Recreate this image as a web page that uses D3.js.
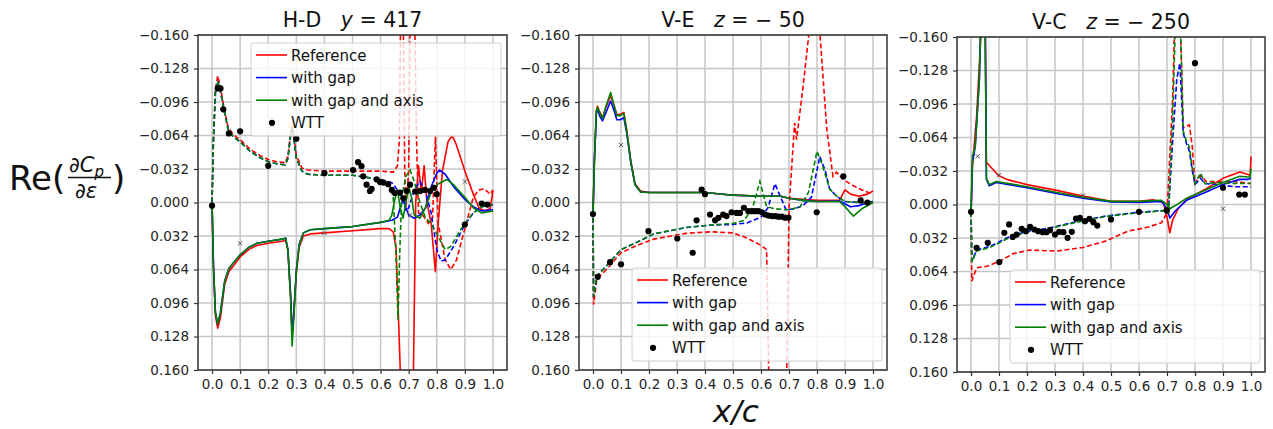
<!DOCTYPE html>
<html>
<head>
<meta charset="utf-8">
<script src="https://cdn.jsdelivr.net/npm/d3@7"></script>
<style>
  html, body { margin: 0; padding: 0; background: #fff; }
  svg { display: block; font-family: 'DejaVu Sans', sans-serif; }
</style>
</head>
<body>
<svg id="chart" width="1273" height="429"></svg>
<script>
const xTicks = [0, 0.1, 0.2, 0.3, 0.4, 0.5, 0.6, 0.7, 0.8, 0.9, 1.0]
const yTicks = [-0.16, -0.128, -0.096, -0.064, -0.032, 0, 0.032, 0.064, 0.096, 0.128, 0.16]
const seriesNames = ['Reference', 'with gap', 'with gap and axis']
const seriesColors = ['#ff0000', '#0000ff', '#008000']
const wttName = 'WTT'

// H-D  y = 417
const hdRefSolid = [[0, 0], [0.005, 0.062], [0.012, 0.108], [0.02, 0.12], [0.03, 0.11], [0.045, 0.078], [0.06, 0.066], [0.075, 0.061], [0.1, 0.052], [0.13, 0.045], [0.16, 0.041], [0.2, 0.039], [0.25, 0.037], [0.262, 0.036], [0.27, 0.046], [0.28, 0.09], [0.285, 0.125], [0.29, 0.11], [0.3, 0.068], [0.31, 0.043], [0.325, 0.032], [0.35, 0.03], [0.4, 0.029], [0.5, 0.027], [0.6, 0.025], [0.63, 0.025], [0.645, 0.028], [0.655, 0.043], [0.665, 0.12], [0.675, 0.2], [0.715, 0.2], [0.725, 0.0], [0.735, -0.035], [0.745, -0.01], [0.755, -0.035], [0.765, 0.0], [0.78, 0.02], [0.795, 0.066], [0.805, 0.02], [0.82, -0.03], [0.84, -0.058], [0.855, -0.064], [0.87, -0.055], [0.9, -0.03], [0.93, -0.008], [0.95, 0.005], [0.97, 0.008], [0.99, 0.006], [1.0, -0.011]]
const hdGapSolid = [[0, 0], [0.005, 0.06], [0.012, 0.105], [0.02, 0.116], [0.03, 0.105], [0.045, 0.075], [0.06, 0.063], [0.075, 0.058], [0.1, 0.05], [0.13, 0.043], [0.16, 0.039], [0.2, 0.037], [0.25, 0.035], [0.262, 0.034], [0.27, 0.045], [0.28, 0.09], [0.285, 0.128], [0.29, 0.11], [0.3, 0.065], [0.31, 0.04], [0.325, 0.029], [0.35, 0.026], [0.4, 0.025], [0.5, 0.023], [0.6, 0.019], [0.64, 0.017], [0.66, 0.014], [0.67, 0.005], [0.68, -0.003], [0.69, 0.005], [0.7, 0.012], [0.72, 0.015], [0.74, 0.012], [0.76, 0.005], [0.78, -0.015], [0.8, -0.028], [0.81, -0.031], [0.83, -0.027], [0.86, -0.015], [0.9, -0.003], [0.93, 0.004], [0.96, 0.008], [1.0, 0.007]]
const hdAxisSolid = [[0, 0], [0.005, 0.06], [0.012, 0.105], [0.02, 0.116], [0.03, 0.105], [0.045, 0.075], [0.06, 0.063], [0.075, 0.058], [0.1, 0.05], [0.13, 0.043], [0.16, 0.039], [0.2, 0.037], [0.25, 0.035], [0.262, 0.034], [0.27, 0.045], [0.28, 0.095], [0.285, 0.137], [0.29, 0.115], [0.3, 0.066], [0.31, 0.041], [0.325, 0.029], [0.35, 0.026], [0.4, 0.025], [0.5, 0.023], [0.6, 0.019], [0.63, 0.017], [0.64, 0.012], [0.65, -0.002], [0.66, -0.012], [0.67, 0.005], [0.68, 0.015], [0.69, 0.0], [0.7, -0.015], [0.71, -0.005], [0.72, 0.012], [0.74, 0.015], [0.76, 0.005], [0.78, -0.01], [0.8, -0.017], [0.835, -0.022], [0.86, -0.017], [0.9, -0.005], [0.93, 0.005], [0.96, 0.01], [1.0, 0.008]]
const hdRefDash = [[0, 0], [0.005, -0.06], [0.012, -0.108], [0.02, -0.121], [0.03, -0.11], [0.04, -0.095], [0.057, -0.072], [0.075, -0.065], [0.1, -0.06], [0.135, -0.051], [0.17, -0.045], [0.2, -0.041], [0.23, -0.039], [0.26, -0.038], [0.27, -0.044], [0.28, -0.067], [0.285, -0.073], [0.292, -0.062], [0.3, -0.045], [0.32, -0.033], [0.34, -0.031], [0.4, -0.03], [0.5, -0.03], [0.6, -0.03], [0.645, -0.029], [0.66, -0.035], [0.667, -0.06], [0.672, -0.2], [0.68, -0.2], [0.686, -0.03], [0.69, 0.005], [0.7, -0.03], [0.706, -0.2], [0.72, -0.2], [0.728, -0.06], [0.735, 0.01], [0.75, 0.012], [0.77, 0.02], [0.785, 0.015], [0.795, -0.063], [0.805, 0.02], [0.83, 0.055], [0.85, 0.064], [0.87, 0.055], [0.9, 0.025], [0.93, -0.005], [0.95, -0.012], [0.97, -0.013], [0.99, -0.008], [1.0, -0.012]]
const hdGapDash = [[0, 0], [0.005, -0.06], [0.012, -0.105], [0.02, -0.116], [0.03, -0.106], [0.04, -0.092], [0.057, -0.07], [0.075, -0.063], [0.1, -0.058], [0.135, -0.049], [0.17, -0.043], [0.2, -0.039], [0.23, -0.037], [0.26, -0.036], [0.27, -0.042], [0.28, -0.065], [0.285, -0.071], [0.292, -0.06], [0.3, -0.042], [0.32, -0.03], [0.34, -0.027], [0.4, -0.026], [0.5, -0.026], [0.55, -0.024], [0.6, -0.022], [0.64, -0.019], [0.66, -0.012], [0.68, -0.002], [0.69, 0.008], [0.7, 0.005], [0.72, -0.012], [0.74, -0.02], [0.76, -0.01], [0.78, 0.01], [0.8, 0.045], [0.815, 0.056], [0.83, 0.055], [0.86, 0.042], [0.9, 0.021], [0.93, 0.01], [0.96, 0.004], [1.0, 0.002]]
const hdAxisDash = [[0, 0], [0.005, -0.06], [0.012, -0.105], [0.02, -0.116], [0.03, -0.106], [0.04, -0.092], [0.057, -0.07], [0.075, -0.063], [0.1, -0.058], [0.135, -0.049], [0.17, -0.043], [0.2, -0.039], [0.23, -0.037], [0.26, -0.036], [0.27, -0.042], [0.28, -0.065], [0.285, -0.071], [0.292, -0.06], [0.3, -0.042], [0.32, -0.03], [0.34, -0.027], [0.4, -0.026], [0.5, -0.026], [0.55, -0.024], [0.6, -0.022], [0.63, -0.018], [0.645, -0.005], [0.655, 0.05], [0.662, 0.112], [0.668, 0.05], [0.675, -0.005], [0.69, -0.025], [0.705, -0.031], [0.72, -0.02], [0.74, 0.0], [0.76, 0.015], [0.78, 0.02], [0.8, 0.03], [0.83, 0.045], [0.85, 0.042], [0.88, 0.028], [0.9, 0.02], [0.93, 0.01], [0.96, 0.004], [1.0, 0.002]]
const hdWtt = [[0.0, 0.003], [0.02, -0.109], [0.03, -0.109], [0.04, -0.089], [0.06, -0.066], [0.1, -0.068], [0.2, -0.035], [0.3, -0.061], [0.4, -0.028], [0.502, -0.031], [0.52, -0.0385], [0.532, -0.0347], [0.538, -0.025], [0.55, -0.017], [0.562, -0.011], [0.568, -0.013], [0.586, -0.022], [0.598, -0.0195], [0.61, -0.019], [0.627, -0.0175], [0.64, -0.012], [0.651, -0.009], [0.669, -0.0095], [0.681, -0.004], [0.693, -0.011], [0.705, -0.017], [0.723, -0.0105], [0.741, -0.011], [0.758, -0.012], [0.776, -0.011], [0.79, -0.014], [0.8, -0.008], [0.9, 0.021], [0.96, 0.001], [0.98, 0.002]]
const hdCross = [[0.1, 0.039], [0.4, 0.029], [0.705, 0.012], [0.9, -0.02]]

// V-E  z = -50
const veRefSolid = [[0, 0.012], [0.005, -0.04], [0.012, -0.088], [0.016, -0.092], [0.025, -0.086], [0.034, -0.081], [0.045, -0.09], [0.063, -0.102], [0.075, -0.093], [0.085, -0.084], [0.097, -0.084], [0.11, -0.086], [0.12, -0.07], [0.135, -0.04], [0.15, -0.018], [0.17, -0.011], [0.2, -0.0095], [0.3, -0.0095], [0.4, -0.0095], [0.5, -0.007], [0.6, -0.006], [0.67, -0.006], [0.7, -0.004], [0.75, -0.003], [0.8, -0.002], [0.88, -0.002], [0.9, -0.012], [0.92, -0.008], [0.95, -0.006], [0.98, -0.008], [1.0, -0.011]]
const veGapSolid = [[0, 0.012], [0.005, -0.04], [0.012, -0.085], [0.016, -0.089], [0.025, -0.082], [0.034, -0.078], [0.045, -0.085], [0.063, -0.097], [0.075, -0.088], [0.085, -0.079], [0.097, -0.079], [0.11, -0.081], [0.12, -0.067], [0.135, -0.038], [0.15, -0.017], [0.17, -0.01], [0.2, -0.0095], [0.3, -0.0095], [0.4, -0.0095], [0.5, -0.007], [0.6, -0.006], [0.67, -0.006], [0.7, -0.004], [0.75, -0.002], [0.8, -0.001], [0.88, -0.0015], [0.92, 0.004], [0.95, 0.003], [0.98, 0.0], [1.0, -0.001]]
const veAxisSolid = [[0, 0.012], [0.005, -0.04], [0.012, -0.087], [0.016, -0.091], [0.025, -0.085], [0.034, -0.08], [0.045, -0.091], [0.063, -0.105], [0.075, -0.093], [0.085, -0.083], [0.097, -0.083], [0.11, -0.085], [0.12, -0.069], [0.135, -0.039], [0.15, -0.017], [0.17, -0.01], [0.2, -0.0095], [0.3, -0.0095], [0.4, -0.0095], [0.5, -0.007], [0.6, -0.006], [0.67, -0.006], [0.7, -0.004], [0.75, -0.002], [0.8, -0.001], [0.88, -0.001], [0.9, 0.004], [0.93, 0.013], [0.96, 0.006], [1.0, 0.0]]
const veRefDash = [[0, 0], [0.002, 0.0975], [0.014, 0.073], [0.05, 0.0635], [0.1, 0.048], [0.157, 0.041], [0.217, 0.035], [0.33, 0.0295], [0.42, 0.028], [0.5, 0.029], [0.55, 0.034], [0.6, 0.041], [0.62, 0.045], [0.63, 0.2], [0.69, 0.2], [0.7, 0.005], [0.72, -0.076], [0.727, -0.06], [0.75, -0.11], [0.787, -0.2], [0.8, -0.2], [0.835, -0.07], [0.857, -0.025], [0.87, -0.029], [0.893, -0.022], [0.93, -0.016], [0.96, -0.012], [1.0, -0.008]]
const veGapDash = [[0, 0], [0.002, 0.09], [0.014, 0.07], [0.05, 0.06], [0.1, 0.045], [0.157, 0.038], [0.217, 0.03], [0.33, 0.024], [0.42, 0.0215], [0.5, 0.021], [0.55, 0.0195], [0.6, 0.014], [0.625, 0.005], [0.65, -0.018], [0.67, -0.005], [0.69, 0.007], [0.72, 0.006], [0.75, 0.003], [0.78, -0.005], [0.81, -0.044], [0.83, -0.03], [0.845, -0.013], [0.87, -0.006], [0.9, -0.001], [0.95, 0.0], [1.0, 0.0]]
const veAxisDash = [[0, 0], [0.002, 0.09], [0.014, 0.07], [0.05, 0.06], [0.1, 0.045], [0.157, 0.038], [0.217, 0.03], [0.33, 0.024], [0.42, 0.0215], [0.5, 0.02], [0.54, 0.017], [0.57, 0.005], [0.596, -0.02], [0.62, 0.004], [0.65, 0.006], [0.7, 0.007], [0.74, 0.004], [0.77, -0.01], [0.8, -0.049], [0.82, -0.035], [0.845, -0.013], [0.87, -0.006], [0.9, -0.001], [0.95, 0.0], [1.0, 0.0]]
const veWtt = [[0.0, 0.011], [0.017, 0.071], [0.061, 0.057], [0.1, 0.059], [0.198, 0.0274], [0.301, 0.0344], [0.356, 0.048], [0.37, 0.017], [0.388, -0.0124], [0.4, -0.008], [0.418, 0.0115], [0.436, 0.017], [0.448, 0.0146], [0.465, 0.0115], [0.477, 0.013], [0.495, 0.0093], [0.513, 0.01], [0.525, 0.01], [0.539, 0.005], [0.555, 0.0083], [0.567, 0.0083], [0.579, 0.0083], [0.591, 0.0083], [0.603, 0.0093], [0.615, 0.0115], [0.627, 0.0125], [0.639, 0.013], [0.651, 0.013], [0.662, 0.0135], [0.674, 0.0135], [0.686, 0.0145], [0.698, 0.0145], [0.799, 0.0093], [0.894, -0.025], [0.956, -0.002], [0.98, 0.0]]
const veCross = [[0.1, -0.055]]

// V-C  z = -250
const vcRefSolid = [[0, 0.01], [0.005, -0.036], [0.02, -0.084], [0.035, -0.16], [0.04, -0.2], [0.05, -0.2], [0.055, -0.04], [0.06, -0.039], [0.097, -0.028], [0.127, -0.024], [0.2, -0.019], [0.306, -0.0135], [0.4, -0.008], [0.5, -0.003], [0.6, -0.003], [0.65, -0.0045], [0.687, -0.002], [0.7, 0.012], [0.71, 0.027], [0.72, 0.015], [0.74, 0.004], [0.77, -0.005], [0.84, -0.015], [0.9, -0.025], [0.96, -0.031], [0.997, -0.028], [1.0, -0.046]]
const vcGapSolid = [[0, 0.012], [0.005, -0.04], [0.015, -0.055], [0.03, -0.12], [0.037, -0.2], [0.05, -0.2], [0.055, -0.024], [0.065, -0.018], [0.09, -0.021], [0.2, -0.016], [0.306, -0.0105], [0.4, -0.006], [0.5, -0.0024], [0.6, -0.002], [0.68, -0.003], [0.7, 0.004], [0.71, 0.013], [0.73, 0.006], [0.77, -0.004], [0.84, -0.012], [0.9, -0.019], [0.96, -0.024], [0.99, -0.024], [1.0, -0.025]]
const vcAxisSolid = [[0, 0.012], [0.005, -0.046], [0.015, -0.055], [0.03, -0.12], [0.037, -0.2], [0.05, -0.2], [0.055, -0.025], [0.065, -0.019], [0.09, -0.022], [0.2, -0.017], [0.306, -0.0115], [0.4, -0.007], [0.5, -0.003], [0.6, -0.003], [0.68, -0.004], [0.7, 0.0], [0.71, 0.004], [0.73, 0.001], [0.77, -0.006], [0.84, -0.014], [0.9, -0.021], [0.96, -0.027], [0.997, -0.026], [1.0, -0.034]]
const vcRefDash = [[0, 0], [0.003, 0.0733], [0.02, 0.0605], [0.057, 0.059], [0.104, 0.054], [0.15, 0.047], [0.21, 0.0435], [0.306, 0.0445], [0.4, 0.041], [0.48, 0.035], [0.56, 0.0255], [0.63, 0.0218], [0.68, 0.0175], [0.7, 0.008], [0.72, -0.1], [0.73, -0.2], [0.745, -0.2], [0.758, -0.0735], [0.78, -0.076], [0.79, -0.056], [0.8, -0.02], [0.82, -0.028], [0.84, -0.022], [0.878, -0.022], [0.94, -0.022], [1.0, -0.02]]
const vcGapDash = [[0, 0], [0.003, 0.054], [0.02, 0.0435], [0.068, 0.04], [0.127, 0.032], [0.2, 0.0255], [0.27, 0.023], [0.36, 0.0175], [0.48, 0.011], [0.6, 0.0074], [0.687, 0.0057], [0.705, 0.008], [0.72, -0.06], [0.735, -0.12], [0.746, -0.135], [0.758, -0.068], [0.77, -0.058], [0.78, -0.051], [0.79, -0.033], [0.8, -0.019], [0.82, -0.025], [0.835, -0.02], [0.878, -0.019], [0.94, -0.017], [1.0, -0.017]]
const vcAxisDash = [[0, 0], [0.003, 0.055], [0.02, 0.0445], [0.068, 0.041], [0.127, 0.033], [0.2, 0.026], [0.27, 0.0235], [0.36, 0.018], [0.48, 0.0115], [0.6, 0.0078], [0.687, 0.006], [0.705, 0.008], [0.72, -0.08], [0.733, -0.2], [0.745, -0.2], [0.758, -0.07], [0.77, -0.06], [0.78, -0.055], [0.79, -0.035], [0.8, -0.02], [0.82, -0.03], [0.835, -0.02], [0.878, -0.021], [0.94, -0.02], [1.0, -0.02]]
const vcWtt = [[0.0, 0.007], [0.02, 0.0414], [0.06, 0.0366], [0.101, 0.055], [0.119, 0.027], [0.136, 0.019], [0.149, 0.031], [0.163, 0.0287], [0.181, 0.0232], [0.196, 0.0255], [0.211, 0.0213], [0.226, 0.0239], [0.24, 0.0255], [0.256, 0.0264], [0.27, 0.0264], [0.282, 0.0245], [0.3, 0.0287], [0.315, 0.0261], [0.33, 0.0264], [0.345, 0.0318], [0.36, 0.0261], [0.375, 0.0134], [0.389, 0.0127], [0.407, 0.0159], [0.423, 0.0137], [0.437, 0.0169], [0.451, 0.0201], [0.5, 0.0143], [0.6, 0.007], [0.699, 0.0057], [0.8, -0.135], [0.9, -0.016], [0.958, -0.0095], [0.978, -0.0095]]
const vcCross = [[0.024, -0.046], [0.1, -0.028], [0.4, -0.0086], [0.9, 0.004]]

const panels = [
  { id: 'hd', title: ['H-D', 'y', '= 417'], left: 198, right: 507, top: 35, bottom: 370,
    solid: [hdRefSolid, hdGapSolid, hdAxisSolid], dash: [hdRefDash, hdGapDash, hdAxisDash],
    wtt: hdWtt, cross: hdCross, legend: { x: 251, y: 43 } },
  { id: 've', title: ['V-E', 'z', '= \u2212 50'], left: 579, right: 887, top: 35, bottom: 370,
    solid: [veRefSolid, veGapSolid, veAxisSolid], dash: [veRefDash, veGapDash, veAxisDash],
    wtt: veWtt, cross: veCross, legend: { x: 632, y: 268 } },
  { id: 'vc', title: ['V-C', 'z', '= \u2212 250'], left: 957, right: 1265, top: 37, bottom: 372,
    solid: [vcRefSolid, vcGapSolid, vcAxisSolid], dash: [vcRefDash, vcGapDash, vcAxisDash],
    wtt: vcWtt, cross: vcCross, legend: { x: 1010, y: 270 } }
]

const svg = d3.select('#chart')
const tickColor = '#262626'

panels.forEach(p => {
  const x = d3.scaleLinear().domain([-0.05, 1.05]).range([p.left, p.right])
  const y = d3.scaleLinear().domain([-0.16, 0.16]).range([p.top, p.bottom])
  const g = svg.append('g')

  g.append('clipPath').attr('id', `clip-${p.id}`)
    .append('rect')
    .attr('x', p.left).attr('y', p.top)
    .attr('width', p.right - p.left).attr('height', p.bottom - p.top)

  // grid
  g.append('g').selectAll('line').data(xTicks).join('line')
    .attr('x1', d => x(d)).attr('x2', d => x(d))
    .attr('y1', p.top).attr('y2', p.bottom)
    .attr('stroke', '#c6c6c6').attr('stroke-width', 1.5)
  g.append('g').selectAll('line').data(yTicks).join('line')
    .attr('x1', p.left).attr('x2', p.right)
    .attr('y1', d => y(d)).attr('y2', d => y(d))
    .attr('stroke', '#c6c6c6').attr('stroke-width', 1.5)

  // axes
  const xAxis = g.append('g')
    .attr('transform', `translate(0,${p.bottom})`)
    .call(d3.axisBottom(x).tickValues(xTicks).tickFormat(d => d.toFixed(1)).tickSize(4).tickPadding(5))
  const yAxis = g.append('g')
    .attr('transform', `translate(${p.left},0)`)
    .call(d3.axisLeft(y).tickValues(yTicks)
      .tickFormat(d => (d < 0 ? '\u2212' : '') + Math.abs(d).toFixed(3))
      .tickSize(4).tickPadding(5))
  ;[xAxis, yAxis].forEach(a => {
    a.select('.domain').remove()
    a.attr('font-family', 'DejaVu Sans').attr('font-size', 13.5)
    a.selectAll('line').attr('stroke', '#333').attr('stroke-width', 1.2)
    a.selectAll('text').attr('fill', tickColor)
  })

  // curves
  const line = d3.line().x(d => x(d[0])).y(d => y(d[1]))
  const plot = g.append('g').attr('clip-path', `url(#clip-${p.id})`)
  seriesColors.forEach((c, i) => {
    plot.append('path').attr('d', line(p.solid[i]))
      .attr('fill', 'none').attr('stroke', c).attr('stroke-width', 1.6)
      .attr('stroke-linejoin', 'round')
    plot.append('path').attr('d', line(p.dash[i]))
      .attr('fill', 'none').attr('stroke', c).attr('stroke-width', 1.6)
      .attr('stroke-dasharray', '5,2.6')
  })
  plot.append('g').selectAll('circle').data(p.wtt).join('circle')
    .attr('cx', d => x(d[0])).attr('cy', d => y(d[1])).attr('r', 3.1)
    .attr('fill', '#000')
  plot.append('g').selectAll('path').data(p.cross).join('path')
    .attr('d', d => `M${x(d[0]) - 2.2},${y(d[1]) - 2.2}L${x(d[0]) + 2.2},${y(d[1]) + 2.2}M${x(d[0]) - 2.2},${y(d[1]) + 2.2}L${x(d[0]) + 2.2},${y(d[1]) - 2.2}`)
    .attr('stroke', '#555').attr('stroke-width', 1)

  // frame
  g.append('rect')
    .attr('x', p.left).attr('y', p.top)
    .attr('width', p.right - p.left).attr('height', p.bottom - p.top)
    .attr('fill', 'none').attr('stroke', '#333').attr('stroke-width', 1.5)

  // title
  const t = g.append('text')
    .attr('x', (p.left + p.right) / 2).attr('y', p.top - 8)
    .attr('text-anchor', 'middle').attr('font-size', 20.5).attr('fill', '#111')
    .style('white-space', 'pre')
  t.append('tspan').text(p.title[0] + '   ')
  t.append('tspan').attr('font-style', 'italic').text(p.title[1])
  t.append('tspan').text(' ' + p.title[2])

  // legend
  const lg = g.append('g').attr('transform', `translate(${p.legend.x},${p.legend.y})`)
  lg.append('rect').attr('width', 250).attr('height', 93).attr('rx', 3)
    .attr('fill', '#fff').attr('fill-opacity', 0.8)
    .attr('stroke', '#d0d0d0').attr('stroke-width', 1)
  const labels = seriesNames.concat([wttName])
  labels.forEach((name, i) => {
    const cy = 12 + i * 22.6
    if (i < 3) {
      lg.append('line').attr('x1', 5).attr('x2', 36).attr('y1', cy).attr('y2', cy)
        .attr('stroke', seriesColors[i]).attr('stroke-width', 1.6)
    } else {
      lg.append('circle').attr('cx', 21).attr('cy', cy).attr('r', 3.1).attr('fill', '#000')
    }
    lg.append('text').attr('x', 40).attr('y', cy + 5.5)
      .attr('font-size', 15).attr('fill', '#111').text(name)
  })
})

// y label: Re(dCp/de)
const yl = svg.append('g').attr('fill', '#111')
yl.append('text').attr('x', 9).attr('y', 190).attr('font-size', 34).text('Re(')
yl.append('text').attr('x', 69).attr('y', 172).attr('font-size', 21).attr('font-style', 'italic')
  .text('\u2202C')
  .append('tspan').attr('font-size', 15).attr('dy', 5).text('p')
yl.append('line').attr('x1', 68).attr('x2', 111).attr('y1', 177.5).attr('y2', 177.5)
  .attr('stroke', '#111').attr('stroke-width', 1.3)
yl.append('text').attr('x', 75).attr('y', 198).attr('font-size', 21).attr('font-style', 'italic')
  .text('\u2202\u03b5')
yl.append('text').attr('x', 112).attr('y', 190).attr('font-size', 34).text(')')

// x label
svg.append('text').attr('x', 736).attr('y', 422)
  .attr('text-anchor', 'middle').attr('font-size', 31).attr('font-style', 'italic')
  .attr('fill', '#111').text('x/c')
</script>
</body>
</html>
